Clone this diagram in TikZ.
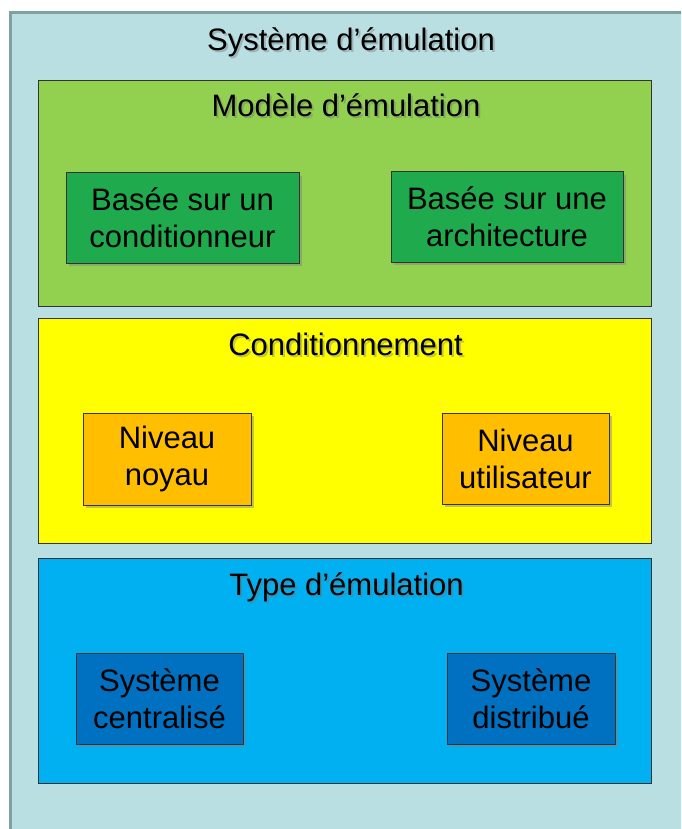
\documentclass[tikz,border=0pt]{standalone}
\usepackage{fontspec}
\setmainfont{Liberation Sans}
\usetikzlibrary{shadows}

\newlength{\du}
\setlength{\du}{1pt}
\newcommand{\boxfont}{\fontsize{31}{37}\selectfont}

\definecolor{backcolor}{HTML}{B9DFE3}
\definecolor{framecolor}{HTML}{7F9FA0}
\definecolor{modelcolor}{HTML}{92D050}
\definecolor{modelitem}{HTML}{1FAA4E}
\definecolor{condcolor}{HTML}{FFFF00}
\definecolor{conditem}{HTML}{FFBE00}
\definecolor{typecolor}{HTML}{00B0F0}
\definecolor{typeitem}{HTML}{0070C0}

\tikzset{
  panel/.style={draw=black!80, line width=1\du, minimum width=613\du, minimum height=225\du, inner sep=0pt},
  item/.style={draw=black!80, line width=1\du, inner sep=0pt, align=center, font=\boxfont,
    drop shadow={shadow xshift=3\du, shadow yshift=-3\du, opacity=0.45}},
  heading/.style={anchor=base, font=\boxfont},
  headshadow/.style={anchor=base, font=\boxfont, text=black!55, opacity=0.4},
}

\begin{document}
\begin{tikzpicture}
\pgftransformxscale{1.000000}
\pgftransformyscale{-1.000000}
\clip (0\du,0\du) rectangle (681\du,829\du);
% outer frame
\fill[backcolor] (10\du,13\du) rectangle (700\du,850\du);
\draw[framecolor, line width=3\du] (10\du,850\du)--(10\du,13\du)--(700\du,13\du);
\node[headshadow] (sysShadow) at (353\du,53\du){Système d’émulation};
\node[heading] (sysTitle) at (351\du,51\du){Système d’émulation};
% model
\node[panel, fill=modelcolor] (modelPanel) at (344.5\du,193.5\du){};
\node[headshadow] (modelShadow) at (348\du,119\du){Modèle d’émulation};
\node[heading] (modelTitle) at (346\du,117\du){Modèle d’émulation};
\node[item, fill=modelitem, minimum width=233\du, minimum height=90\du] (condBased) at (182.5\du,218\du){Basée sur un\\conditionneur};
\node[item, fill=modelitem, minimum width=232\du, minimum height=90\du] (archBased) at (507\du,217\du){Basée sur une\\architecture};
% conditioning
\node[panel, fill=condcolor] (condPanel) at (344.5\du,430.5\du){};
\node[headshadow] (condShadow) at (347.5\du,357\du){Conditionnement};
\node[heading] (condTitle) at (345.5\du,355\du){Conditionnement};
\node[item, fill=conditem, minimum width=168\du, minimum height=92\du] (kernelLevel) at (167\du,459\du){Niveau\\noyau};
\node[item, fill=conditem, minimum width=167\du, minimum height=91\du] (userLevel) at (525.5\du,458.5\du){Niveau\\utilisateur};
% type
\node[panel, fill=typecolor] (typePanel) at (344.5\du,670.5\du){};
\node[headshadow] (typeShadow) at (348.5\du,597\du){Type d’émulation};
\node[heading] (typeTitle) at (346.5\du,595\du){Type d’émulation};
\node[item, fill=typeitem, minimum width=167\du, minimum height=91\du] (centralSys) at (159.5\du,698.5\du){Système\\centralisé};
\node[item, fill=typeitem, minimum width=168\du, minimum height=91\du] (distribSys) at (531\du,698.5\du){Système\\distribué};
\end{tikzpicture}
\end{document}
